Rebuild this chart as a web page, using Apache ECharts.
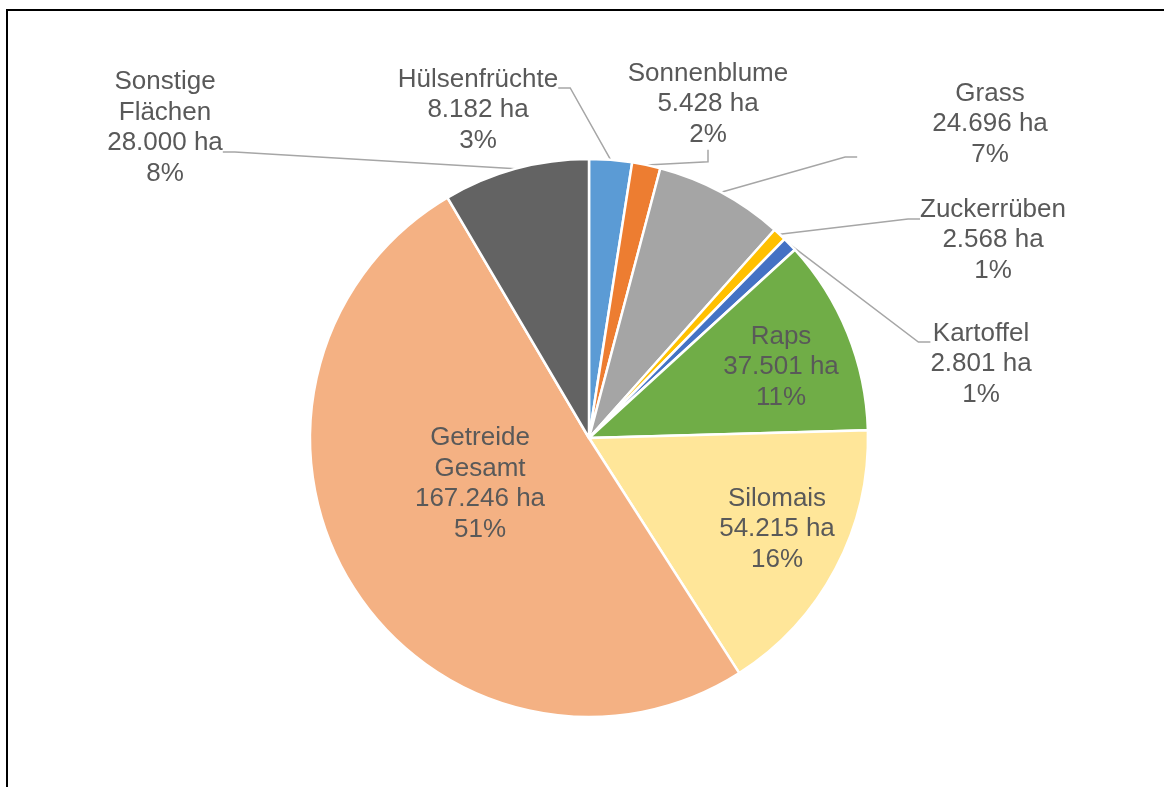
<!DOCTYPE html>
<html>
<head>
<meta charset="utf-8">
<script src="https://cdn.jsdelivr.net/npm/echarts@6/dist/echarts.min.js"></script>
<style>
  html, body { margin: 0; padding: 0; background: #fff; }
  #frame {
    position: absolute; left: 6px; top: 9px; width: 1300px; height: 900px;
    border-top: 2px solid #000; border-left: 2px solid #000;
  }
  #chart { position: absolute; left: 0; top: 0; width: 1164px; height: 787px; }
</style>
</head>
<body>
<div id="frame"></div>
<div id="chart"></div>
<script>
  // Flächen in ha, im Uhrzeigersinn ab 12 Uhr
  var categories = ['Hülsenfrüchte', 'Sonnenblume', 'Grass', 'Zuckerrüben', 'Kartoffel',
                    'Raps', 'Silomais', 'Getreide\nGesamt', 'Sonstige\nFlächen']
  var areas = [8182, 5428, 24696, 2568, 2801, 37501, 54215, 167246, 28000]
  var areaLabels = ['8.182 ha', '5.428 ha', '24.696 ha', '2.568 ha', '2.801 ha',
                    '37.501 ha', '54.215 ha', '167.246 ha', '28.000 ha']
  var percentLabels = ['3%', '2%', '7%', '1%', '1%', '11%', '16%', '51%', '8%']
  var insideLabel = [false, false, false, false, false, true, true, true, false]

  var colors = ['#5B9BD5', '#ED7D31', '#A5A5A5', '#FFC000', '#4472C4',
                '#70AD47', '#FFE699', '#F4B183', '#636363']

  // Textmitte der Beschriftungen und Innenabstand [oben, rechts, unten, links],
  // damit die Führungslinie an der gleichen Stelle wie im Original ansetzt
  var labelPos = [[478, 110], [708, 104], [990, 124], [993, 240], [981, 364],
                  [781, 367], [777, 529], [480, 484], [165, 128]]
  var labelPad = [[44, 0, 0, 0], [0, 0, 0, 0], [0, 0, 66, 75], [42, 0, 0, 0], [44, 0, 0, 0],
                  [0, 0, 0, 0], [0, 0, 0, 0], [0, 0, 0, 0], [0, 0, 48, 0]]

  var LINE_H = 30.5

  var chart = echarts.init(document.getElementById('chart'))

  var seriesData = categories.map(function (name, i) {
    var item = {
      name: name,
      value: areas[i],
      itemStyle: { color: colors[i] },
      label: { padding: labelPad[i] }
    }
    if (insideLabel[i]) {
      item.label.position = 'inside'
      item.labelLine = { show: false }
    }
    return item
  })

  chart.setOption({
    backgroundColor: 'transparent',
    animation: false,
    series: [{
      type: 'pie',
      center: [589, 438],
      radius: 279,
      startAngle: 90,
      clockwise: true,
      avoidLabelOverlap: false,
      itemStyle: {
        borderColor: '#fff',
        borderWidth: 2.5
      },
      label: {
        show: true,
        position: 'outside',
        color: '#595959',
        fontFamily: 'Liberation Sans, Arial, sans-serif',
        fontSize: 26,
        lineHeight: LINE_H,
        align: 'center',
        formatter: function (p) {
          return p.name + '\n' + areaLabels[p.dataIndex] + '\n' + percentLabels[p.dataIndex]
        }
      },
      labelLine: {
        show: true,
        length: 10,
        length2: 12,
        lineStyle: { color: '#A6A6A6', width: 1.5 }
      },
      labelLayout: function (p) {
        var i = p.dataIndex
        var pos = labelPos[i]
        var pad = labelPad[i]
        var lines = categories[i].split('\n').length + 2
        return {
          x: pos[0] + (pad[1] - pad[3]) / 2,
          y: pos[1] - lines * LINE_H / 2 - pad[0],
          align: 'center',
          verticalAlign: 'top'
        }
      },
      data: seriesData
    }]
  })
</script>
</body>
</html>
